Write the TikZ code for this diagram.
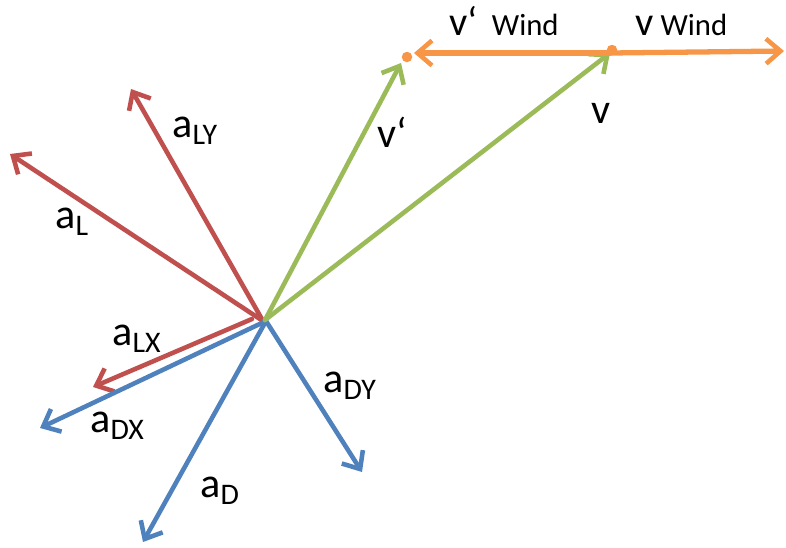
\documentclass[tikz,border=0pt]{standalone}
\usepackage{fontspec}
\setmainfont{Carlito}
\usepackage{tikz}
\usetikzlibrary{arrows.meta}
\definecolor{lift}{HTML}{C0504D}
\definecolor{drag}{HTML}{4F81BD}
\definecolor{speed}{HTML}{9BBB59}
\definecolor{wind}{HTML}{F79646}
\newcommand{\acomp}[1]{{\fontsize{24}{24}\selectfont a}\raisebox{-4pt}{\fontsize{17}{17}\selectfont #1}}

\begin{document}
\begin{tikzpicture}[
  x=0.2mm,y=-0.2mm,
  vec/.style={line width=2.6pt,line cap=round,-{Straight Barb[length=2.9mm,width=5mm,line width=2.6pt]}},
  lbl/.style={anchor=base west,inner sep=0pt,font=\fontsize{24}{24}\selectfont},
  windlbl/.style={anchor=base west,inner sep=0pt,font=\fontsize{17.5}{17.5}\selectfont},
  dot/.style={circle,fill=wind,inner sep=0pt,minimum size=2.1mm}
]
\useasboundingbox (0,0) rectangle (786,547);
% origin and tips
\coordinate (o) at (265,320);
\coordinate (oL) at (263,321);
\coordinate (oLX) at (252,319);
\coordinate (oD) at (266,321);
\coordinate (aL) at (10,154);
\coordinate (aLY) at (131,89);
\coordinate (aLX) at (93,387);
\coordinate (aDX) at (40,428);
\coordinate (aD) at (143,542);
\coordinate (aDY) at (362,472);
\coordinate (vp) at (401,63);
\coordinate (v) at (610,53);
\coordinate (wr) at (784,51);
\coordinate (wl) at (414,53);
% lift
\draw[vec,lift] (oL) -- (aL);
\draw[vec,lift] (oL) -- (aLY);
\draw[vec,lift] (oLX) -- (aLX);
% drag
\draw[vec,drag] (oD) -- (aDX);
\draw[vec,drag] (oD) -- (aD);
\draw[vec,drag] (oD) -- (aDY);
% speed
\draw[vec,speed] (o) -- (vp);
\draw[vec,speed] (o) -- (v);
% wind
\draw[vec,wind,line width=3pt] (v) -- (wr);
\draw[vec,wind,line width=3pt] (v) -- (wl);
\node[dot] (vdot) at (612,50) {};
\node[dot] (vpdot) at (407,57) {};
% labels
\node[lbl] (tL) at (55,228) {\acomp{L}};
\node[lbl] (tLY) at (172,137) {\acomp{LY}};
\node[lbl] (tLX) at (112,345) {\acomp{LX}};
\node[lbl] (tDX) at (90,432) {\acomp{DX}};
\node[lbl] (tD) at (200,497) {\acomp{D}};
\node[lbl] (tDY) at (323,392) {\acomp{DY}};
\node[lbl] (tvp) at (377,147) {v`};
\node[lbl] (tv) at (591,123) {v};
\node[windlbl] (twp) at (449,35) {{\fontsize{23}{23}\selectfont v`}\ \ Wind};
\node[windlbl] (tw) at (635,35) {{\fontsize{23}{23}\selectfont v}\ Wind};
\end{tikzpicture}
\end{document}
